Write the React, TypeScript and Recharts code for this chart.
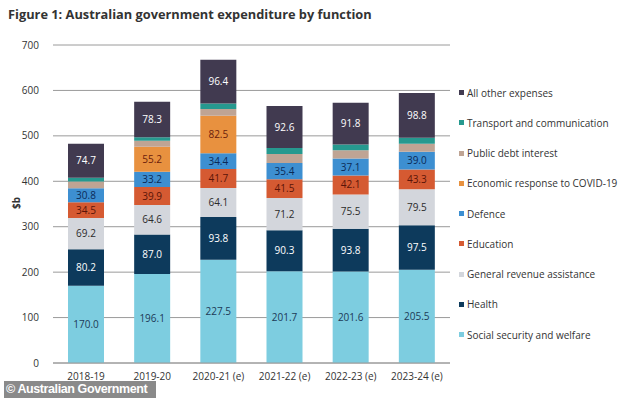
import React from 'react';
import { BarChart, Bar, XAxis, YAxis, CartesianGrid, LabelList } from 'recharts';

const categories = ['2018-19', '2019-20', '2020-21 (e)', '2021-22 (e)', '2022-23 (e)', '2023-24 (e)'];
const socialSecurity = [170.0, 196.1, 227.5, 201.7, 201.6, 205.5];
const health = [80.2, 87.0, 93.8, 90.3, 93.8, 97.5];
const generalRevenue = [69.2, 64.6, 64.1, 71.2, 75.5, 79.5];
const education = [34.5, 39.9, 41.7, 41.5, 42.1, 43.3];
const defence = [30.8, 33.2, 34.4, 35.4, 37.1, 39.0];
const covid = [0, 55.2, 82.5, 0, 0, 0];
const publicDebt = [15, 13, 15, 20, 18, 18];
const transport = [8, 8, 12, 13, 13, 13];
const allOther = [74.7, 78.3, 96.4, 92.6, 91.8, 98.8];
const yTicks = [0, 100, 200, 300, 400, 500, 600, 700];

const data = categories.map((c, i) => ({
  name: c,
  ss: socialSecurity[i],
  health: health[i],
  gra: generalRevenue[i],
  edu: education[i],
  def: defence[i],
  covid: covid[i],
  debt: publicDebt[i],
  trans: transport[i],
  other: allOther[i],
}));

const series = [
  { key: 'ss', name: 'Social security and welfare', color: '#7dcde0', text: '#1c3a57', label: true },
  { key: 'health', name: 'Health', color: '#0d3a5c', text: '#ffffff', label: true },
  { key: 'gra', name: 'General revenue assistance', color: '#d3d6dc', text: '#2b2b2b', label: true },
  { key: 'edu', name: 'Education', color: '#d55a32', text: '#5a1408', label: true },
  { key: 'def', name: 'Defence', color: '#3d8fd1', text: '#0b2a57', label: true },
  { key: 'covid', name: 'Economic response to COVID-19', color: '#e8913f', text: '#6b200c', label: true },
  { key: 'debt', name: 'Public debt interest', color: '#bfa494', text: '#333', label: false },
  { key: 'trans', name: 'Transport and communication', color: '#26998f', text: '#333', label: false },
  { key: 'other', name: 'All other expenses', color: '#413a50', text: '#ffffff', label: true },
];

const fontFamily = '"Open Sans", "Noto Sans", sans-serif';

const LegendBlock = () => {
  const items = [...series].reverse();
  return (
    <div style={{ position: 'absolute', left: 459, top: 77.6, fontFamily, fontSize: 10, color: '#333' }}>
      {items.map((s) => (
        <div key={s.key} style={{ height: 30.25, display: 'flex', alignItems: 'center', whiteSpace: 'nowrap' }}>
          <span style={{ display: 'inline-block', width: 5, height: 5, background: s.color, marginRight: 3 }} />
          <span>{s.name}</span>
        </div>
      ))}
    </div>
  );
};

export default function App() {
  return (
    <div style={{ position: 'fixed', left: 0, top: 0, width: 634, height: 398, background: '#fff', overflow: 'hidden' }}>
      <div style={{ position: 'absolute', left: 8, top: 5, fontFamily, fontWeight: 700, fontSize: 12.8, color: '#333', whiteSpace: 'nowrap' }}>
        Figure 1: Australian government expenditure by function
      </div>
      <div style={{ position: 'absolute', left: 10, top: 196, transform: 'rotate(-90deg)', fontFamily, fontWeight: 700, fontSize: 10, color: '#333' }}>
        $b
      </div>
      <BarChart width={634} height={398} data={data} margin={{ top: 45, right: 184, bottom: 10, left: 8 }} barSize={36} style={{ position: 'absolute', left: 0, top: 0 }}>
        <CartesianGrid horizontal vertical={false} stroke="#9a9a9a" />
        <XAxis dataKey="name" height={25} tickLine={false} axisLine={{ stroke: '#9a9a9a' }} tick={{ fontSize: 10, fill: '#333', fontFamily }} interval={0} tickMargin={4} />
        <YAxis width={45} domain={[0, 700]} ticks={yTicks} tickLine={false} axisLine={false} tick={{ fontSize: 10, fill: '#333', fontFamily }} tickMargin={8} />
        {series.map((s) => (
          <Bar key={s.key} dataKey={s.key} name={s.name} stackId="a" fill={s.color} isAnimationActive={false}>
            {s.label && (
              <LabelList
                dataKey={s.key}
                position="center"
                formatter={(v: number) => (v ? Number(v).toFixed(1) : '')}
                style={{ fontSize: 10, fill: s.text, fontFamily }}
              />
            )}
          </Bar>
        ))}
      </BarChart>
      <LegendBlock />
      <div style={{ position: 'absolute', left: 4, top: 381, width: 150, height: 17, background: '#8a8a8a', color: '#fff', fontFamily: 'Liberation Sans, Arial, sans-serif', fontWeight: 700, fontSize: 12.5, lineHeight: '17px', paddingLeft: 2, whiteSpace: 'nowrap', letterSpacing: -0.4 }}>
        © Australian Government
      </div>
    </div>
  );
}
